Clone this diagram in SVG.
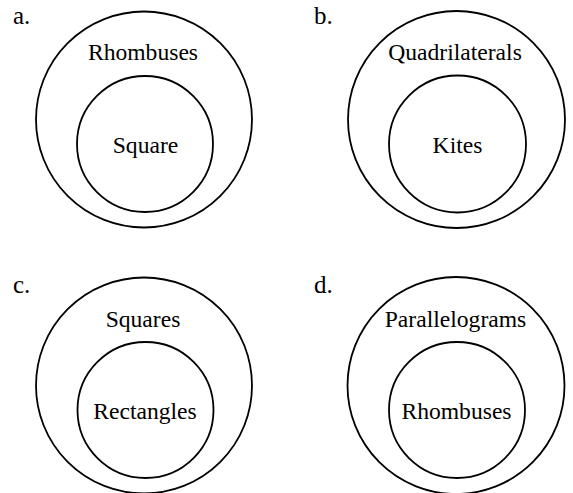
<svg xmlns="http://www.w3.org/2000/svg" width="573" height="493" viewBox="0 0 573 493">
<style>
.c{fill:none;stroke:#000;stroke-width:1.8}
.t{font-family:"Liberation Serif","Times New Roman","DejaVu Serif",serif;font-size:23.6px;fill:#000;text-anchor:middle}
.l{font-family:"Liberation Serif","Times New Roman","DejaVu Serif",serif;font-size:25px;fill:#000}
</style>
<rect width="573" height="493" fill="#fff"/>
<g id="a">
<text class="l" x="13" y="24">a.</text>
<circle id="a-outer" class="c" cx="144" cy="119.5" r="108"/>
<circle id="a-inner" class="c" cx="145" cy="144" r="68"/>
<text class="t" x="143" y="60">Rhombuses</text>
<text class="t" x="145.5" y="153">Square</text>
</g>
<g id="b">
<text class="l" x="314" y="24">b.</text>
<circle id="b-outer" class="c" cx="456.5" cy="119.5" r="108.5"/>
<circle id="b-inner" class="c" cx="457.5" cy="144" r="68.5"/>
<text class="t" x="455" y="60">Quadrilaterals</text>
<text class="t" x="457.5" y="153">Kites</text>
</g>
<g id="c">
<text class="l" x="13" y="293">c.</text>
<circle id="c-outer" class="c" cx="144" cy="385.5" r="108"/>
<circle id="c-inner" class="c" cx="145.5" cy="410" r="68"/>
<text class="t" x="143" y="327">Squares</text>
<text class="t" x="145" y="419">Rectangles</text>
</g>
<g id="d">
<text class="l" x="314" y="293">d.</text>
<circle id="d-outer" class="c" cx="456" cy="385.5" r="108.5"/>
<circle id="d-inner" class="c" cx="457" cy="410" r="68"/>
<text class="t" x="455.5" y="327">Parallelograms</text>
<text class="t" x="456.5" y="419">Rhombuses</text>
</g>
<g id="connectors"/>
</svg>
